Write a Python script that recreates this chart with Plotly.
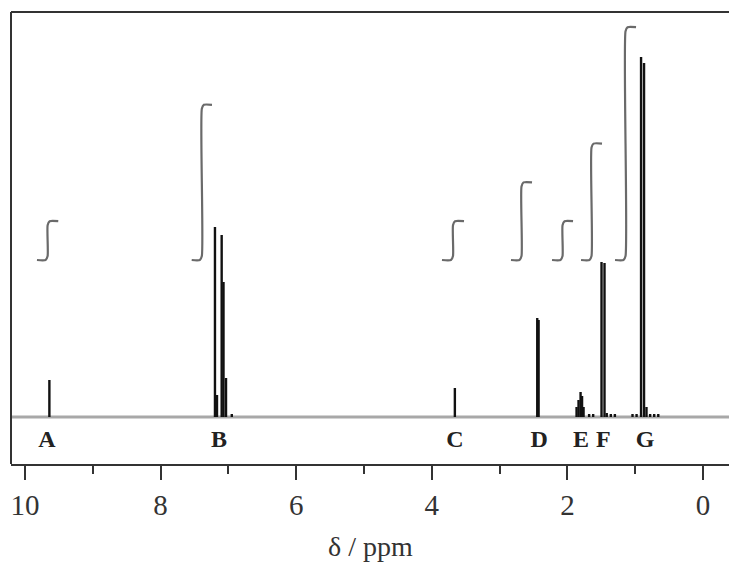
import plotly.graph_objects as go

# 1H NMR spectrum: peak lines (chemical shift in ppm, relative intensity)
peak_ppm = [9.64,
            7.198, 7.168, 7.099, 7.072, 7.035,
            3.66,
            2.445, 2.425,
            1.865, 1.836, 1.806, 1.784, 1.762,
            1.497, 1.453, 1.420,
            0.914, 0.870, 0.834]
peak_int = [37,
            190, 22, 182, 135, 39,
            29,
            99, 97,
            10, 17, 25, 21, 10,
            155, 154, 4,
            360, 354, 10]

# small baseline features
minor_ppm = [1.68, 1.62, 1.36, 1.30, 1.04, 0.98, 0.78, 0.72, 0.66, 6.95]
minor_int = [3, 3, 3, 3, 3, 3, 3, 3, 3, 3]

# integration regions (ppm) and relative proton counts
int_labels = ["A", "B", "C", "D", "E", "F", "G"]
int_start = [9.823, 7.541, 3.850, 2.832, 2.227, 1.799, 1.298]
int_end = [9.509, 7.242, 3.525, 2.522, 1.917, 1.490, 0.988]
int_value = [1, 4, 1, 2, 1, 3, 6]

# signal labels under the baseline
label_ppm = [9.675, 7.14, 3.66, 2.415, 1.80, 1.47, 0.855]

INT_OFFSET = 157     # integral curves sit above the spectrum
INT_SCALE = 38.8     # height per proton
X_RANGE = [10.206, -0.383]
Y_RANGE = [-47, 405]
FRAME = "#333333"

fig = go.Figure()

# baseline
fig.add_trace(go.Scatter(x=[X_RANGE[0], X_RANGE[1]], y=[0, 0], mode="lines",
                         line=dict(color="#a8a8a8", width=3),
                         hoverinfo="skip", showlegend=False))

# peak sticks
xs, ys = [], []
for p, h in zip(peak_ppm + minor_ppm, peak_int + minor_int):
    xs += [p, p, None]
    ys += [0, h, None]
fig.add_trace(go.Scatter(x=xs, y=ys, mode="lines",
                         line=dict(color="#111111", width=2.4),
                         hoverinfo="skip", showlegend=False))

# integral curves
rx, ry = 0.03, 4
for s, e, v in zip(int_start, int_end, int_value):
    mid = (s + e) / 2
    b = INT_OFFSET
    top = INT_OFFSET + v * INT_SCALE
    fig.add_trace(go.Scatter(
        x=[s, mid + rx, mid, mid, mid - rx, e],
        y=[b, b, b + ry, top - ry, top, top],
        mode="lines", line=dict(color="#6a6a6a", width=2.2, shape="spline", smoothing=0.6),
        hoverinfo="skip", showlegend=False))

# signal letters
fig.add_trace(go.Scatter(x=label_ppm, y=[-24] * len(label_ppm), mode="text",
                         text=[f"<b>{t}</b>" for t in int_labels],
                         textfont=dict(family="Liberation Serif", size=24, color="#222222"),
                         hoverinfo="skip", showlegend=False))

fig.add_annotation(text="δ / ppm", xref="paper", yref="paper", x=0.5, y=-0.182,
                   xanchor="center", yanchor="middle", showarrow=False,
                   font=dict(family="Liberation Serif", size=28, color="#333333"))

# frame: top and left edges
fig.add_shape(type="line", xref="paper", yref="paper", x0=0, x1=1.02, y0=1, y1=1,
              line=dict(color=FRAME, width=2))
fig.add_shape(type="line", xref="paper", yref="paper", x0=0, x1=0, y0=0, y1=1,
              line=dict(color=FRAME, width=2))

fig.update_xaxes(range=X_RANGE, showline=True, mirror=False, linecolor=FRAME, linewidth=2,
                 ticks="outside", ticklen=14, tickwidth=2, tickcolor=FRAME,
                 tickvals=[10, 8, 6, 4, 2, 0],
                 tickfont=dict(family="Liberation Serif", size=29, color="#333333"),
                 minor=dict(tickvals=[9, 7, 5, 3, 1], ticks="outside", ticklen=8,
                            tickwidth=2, tickcolor=FRAME),
                 showgrid=False, zeroline=False)
fig.update_yaxes(range=Y_RANGE, showline=False,
                 showticklabels=False, ticks="", showgrid=False, zeroline=False)

fig.update_layout(width=729, height=563, margin=dict(l=11, r=0, t=12, b=99),
                  paper_bgcolor="white", plot_bgcolor="white")

fig.write_html("out.html")
